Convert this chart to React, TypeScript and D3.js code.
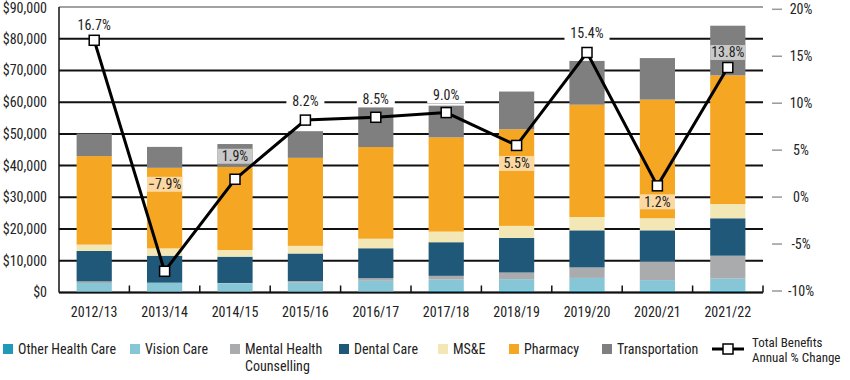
import React from 'react';
import * as d3 from 'd3';

const categories = ['2012/13', '2013/14', '2014/15', '2015/16', '2016/17', '2017/18', '2018/19', '2019/20', '2020/21', '2021/22'];
const otherHealthCare = [100, 100, 100, 200, 200, 500, 500, 500, 500, 500];
const visionCare = [2900, 2900, 2800, 2900, 3500, 3600, 3700, 4100, 3400, 3900];
const mentalHealth = [500, 100, 100, 500, 800, 1150, 2100, 3300, 5900, 7200];
const dentalCare = [9600, 8500, 8300, 8700, 9450, 10600, 10900, 11700, 9800, 11800];
const msAndE = [2000, 2300, 2100, 2400, 3000, 3350, 3800, 4200, 3800, 4500];
const pharmacy = [27900, 25400, 26250, 27750, 28900, 29700, 30450, 35400, 37400, 40550];
const transportation = [7100, 6600, 7150, 8400, 12500, 10000, 11900, 13800, 13100, 15650];
const pctChange = [16.7, -7.9, 1.9, 8.2, 8.5, 9.0, 5.5, 15.4, 1.2, 13.8];
const leftTicks = [0, 10000, 20000, 30000, 40000, 50000, 60000, 70000, 80000, 90000];
const rightTicks = [-10, -5, 0, 5, 10, 15, 20];

// label placement (layout, px offset from marker)
const labelDy = [-15, -87, -23, -19, -18, -17, 18, -19, 16, -15];

const seriesNames = ['Other Health Care', 'Vision Care', 'Mental Health Counselling', 'Dental Care', 'MS&E', 'Pharmacy', 'Transportation'];
const seriesData = [otherHealthCare, visionCare, mentalHealth, dentalCare, msAndE, pharmacy, transportation];
const colors = ['#1f9bb8', '#87c6d7', '#a9abad', '#1f5878', '#f3e8b5', '#f5a623', '#7f7f7f'];
const labelBg: Record<number, string> = { 5: '#fcd9a2', 6: '#c9c9c9' };

const FONT = "'Liberation Sans Narrow', 'Arial Narrow', 'Roboto Condensed', Roboto, sans-serif";

export default function App() {
  const L = 59, R = 763, T = 7, B = 292.5;
  const x = d3.scaleBand<string>().domain(categories).range([L, R]).paddingInner(0.5).paddingOuter(0.25);
  const y = d3.scaleLinear().domain([0, 90000]).range([B, T]);
  const yr = d3.scaleLinear().domain([-10, 20]).range([291, 9.3]);
  const step = x.step();

  const rows = categories.map((c, i) => {
    const r: any = { cat: c };
    seriesNames.forEach((n, k) => (r[n] = seriesData[k][i]));
    return r;
  });
  const stacked = d3.stack<any>().keys(seriesNames)(rows);

  const line = d3
    .line<number>()
    .x((_, i) => (x(categories[i]) as number) + x.bandwidth() / 2)
    .y((v) => yr(v));

  const boundaries = d3.range(0, categories.length + 1).map((i) => L + i * step);

  const legendItems = [
    { x: 3, name: 'Other Health Care' },
    { x: 130, name: 'Vision Care' },
    { x: 230, name: 'Mental Health', name2: 'Counselling' },
    { x: 339, name: 'Dental Care' },
    { x: 438, name: 'MS&E' },
    { x: 509, name: 'Pharmacy' },
    { x: 602, name: 'Transportation' },
  ];

  return (
    <svg width={850} height={380} style={{ position: 'absolute', left: 0, top: 0, background: '#fff' }} fontFamily={FONT}>
      {/* gridlines */}
      {leftTicks.map((t) => (
        <line key={t} x1={L} x2={R} y1={y(t)} y2={y(t)} stroke={t === 90000 ? '#444' : '#111'} strokeWidth={t === 90000 ? 1 : 2} />
      ))}
      {/* left labels */}
      {leftTicks.map((t) => (
        <text key={'l' + t} x={47} y={Math.max(y(t), 8.5)} dy="0.35em" textAnchor="end" fontSize={14} fill="#222">
          {'$' + d3.format(',')(t)}
        </text>
      ))}
      {/* right labels */}
      {rightTicks.map((t) => (
        <g key={'r' + t}>
          <line x1={772} x2={782} y1={yr(t)} y2={yr(t)} stroke="#999" strokeWidth={1.5} />
          <text x={801} y={yr(t)} dy="0.35em" textAnchor="middle" fontSize={14} fill="#222">
            {t + '%'}
          </text>
        </g>
      ))}
      {/* bars */}
      {stacked.map((s, k) =>
        s.map((d, i) => (
          <rect
            key={k + '-' + i}
            x={x(categories[i])}
            width={x.bandwidth()}
            y={y(d[1])}
            height={Math.max(0, y(d[0]) - y(d[1]))}
            fill={colors[k]}
          />
        ))
      )}
      {/* axes */}
      <line x1={L} x2={L} y1={T} y2={B} stroke="#111" strokeWidth={1.5} />
      <line x1={L} x2={R} y1={B} y2={B} stroke="#111" strokeWidth={1.5} />
      {boundaries.slice(1).map((bx, i) => (
        <line key={'b' + i} x1={bx} x2={bx} y1={B} y2={B - 7} stroke="#111" strokeWidth={1.5} />
      ))}
      {categories.map((c) => (
        <text key={'c' + c} x={(x(c) as number) + x.bandwidth() / 2} y={312} dy="0.35em" textAnchor="middle" fontSize={14} fill="#222">
          {c}
        </text>
      ))}
      {/* labels */}
      {pctChange.map((v, i) => {
        const cx = (x(categories[i]) as number) + x.bandwidth() / 2;
        const ly = yr(v) + labelDy[i];
        const val = y.invert(ly);
        let seg = -1;
        stacked.forEach((s, k) => {
          if (val >= s[i][0] && val < s[i][1]) seg = k;
        });
        const txt = d3.format('.1f')(v) + '%';
        const bg = labelBg[seg];
        const w = bg ? x.bandwidth() : txt.length * 7 + 10;
        return (
          <g key={'lab' + i}>
            <rect x={cx - w / 2} y={ly - 7.5} width={w} height={15} fill={bg || '#fff'} />
            <text x={cx} y={ly} dy="0.35em" textAnchor="middle" fontSize={14} fill="#222">
              {txt}
            </text>
          </g>
        );
      })}
      {/* line */}
      <path d={line(pctChange) as string} fill="none" stroke="#000" strokeWidth={3} strokeLinejoin="miter" />
      {pctChange.map((v, i) => (
        <rect
          key={'m' + i}
          x={(x(categories[i]) as number) + x.bandwidth() / 2 - 5}
          y={yr(v) - 5}
          width={10}
          height={10}
          fill="#fff"
          stroke="#000"
          strokeWidth={1.5}
        />
      ))}
      {/* legend */}
      {legendItems.map((it, k) => (
        <g key={'lg' + k}>
          <rect x={it.x} y={344} width={10} height={10} fill={colors[k]} />
          <text x={it.x + 15} y={349} dy="0.35em" fontSize={14} fill="#222">
            {it.name}
          </text>
          {it.name2 && (
            <text x={it.x + 15} y={366} dy="0.35em" fontSize={14} fill="#222">
              {it.name2}
            </text>
          )}
        </g>
      ))}
      <line x1={712} x2={744} y1={349} y2={349} stroke="#000" strokeWidth={3} />
      <rect x={723} y={344} width={10} height={10} fill="#fff" stroke="#000" strokeWidth={1.5} />
      <text x={752} y={342} dy="0.35em" fontSize={13} fill="#222">Total Benefits</text>
      <text x={752} y={357} dy="0.35em" fontSize={13} fill="#222">Annual % Change</text>
    </svg>
  );
}
